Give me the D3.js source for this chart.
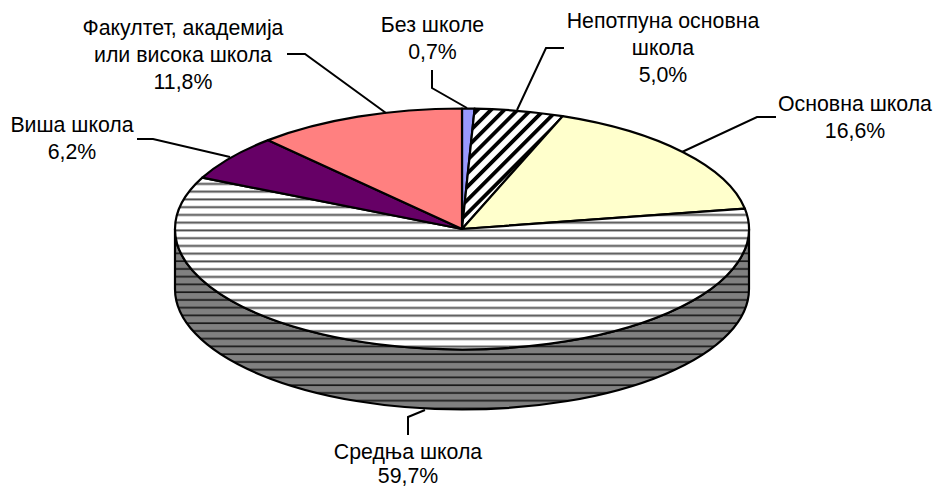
<!DOCTYPE html>
<html><head><meta charset="utf-8">
<script src="https://cdn.jsdelivr.net/npm/d3@7/dist/d3.min.js"></script>
<style>html,body{margin:0;padding:0;background:#fff}svg{display:block}text{font-family:"Liberation Sans",Arial,sans-serif;font-size:21.3px;fill:#000}</style>
</head><body><svg id="c" width="934" height="488"></svg>
<script>
const categories = ["Без школе","Непотпуна основна школа","Основна школа","Средња школа","Виша школа","Факултет, академија или висока школа"];
const values = [0.7,5.0,16.6,59.7,6.2,11.8];
const valueLabels = ["0,7%","5,0%","16,6%","59,7%","6,2%","11,8%"];
const fills = ["#9999ff","url(#diag)","#ffffcc","url(#hor)","#660066","#ff8080"];
const labelLines = [["Без школе","0,7%"],["Непотпуна основна","школа","5,0%"],["Основна школа","16,6%"],["Средња школа","59,7%"],["Виша школа","6,2%"],["Факултет, академија","или висока школа","11,8%"]];
const labelAnchors = [[432.5,32],[663,27.5],[855,111],[408,459],[72,132],[183,35]];
const lineGaps = [27,27,27,24,27,27];
const leaderPaths = [[[467,108],[432,88],[432,70]],[[517,110],[546,48],[564,48]],[[682,152],[757,117],[776,117]],[[425,410],[408,417],[408,435]],[[230,157],[153,139],[137,139]],[[386,113],[305,54],[287,54]]];

const cx=462,cy=229,rx=287,ry=120.5,depth=60;
const svg=d3.select("#c");
const defs=svg.append("defs");
const P=7.75;
const hor=defs.append("pattern").attr("id","hor").attr("patternUnits","userSpaceOnUse").attr("width",8).attr("height",P).attr("y",205.8);
hor.append("rect").attr("width",8).attr("height",P).attr("fill","#fff");
hor.append("rect").attr("y",-0.0).attr("width",8).attr("height",0.7).attr("fill","#aaa");
hor.append("rect").attr("y",0.7).attr("width",8).attr("height",1.1).attr("fill","#222");
hor.append("rect").attr("y",1.8).attr("width",8).attr("height",1.0).attr("fill","#aaa");
const horD=defs.append("pattern").attr("id","horD").attr("patternUnits","userSpaceOnUse").attr("width",8).attr("height",P).attr("y",205.8);
horD.append("rect").attr("width",8).attr("height",P).attr("fill","#808080");
horD.append("rect").attr("y",0.3).attr("width",8).attr("height",1.7).attr("fill","#1a1a1a");
const dg=defs.append("pattern").attr("id","diag").attr("patternUnits","userSpaceOnUse").attr("width",9.4).attr("height",9.4).attr("patternTransform","rotate(45)");
dg.append("rect").attr("width",9.4).attr("height",9.4).attr("fill","#fff");
dg.append("rect").attr("width",3.8).attr("height",9.4).attr("fill","#000");

const pie=d3.pie().sort(null).value(d=>d);
const arcs=pie(values);
const px=(a,dy=0)=>[cx+rx*Math.sin(a),cy-ry*Math.cos(a)+dy];
function wedge(d){
  const p0=px(d.startAngle),p1=px(d.endAngle),large=(d.endAngle-d.startAngle)>Math.PI?1:0;
  return `M${cx},${cy}L${p0}A${rx},${ry} 0 ${large} 1 ${p1}Z`;
}
const sideD=`M${cx-rx},${cy}A${rx},${ry} 0 0 0 ${cx+rx},${cy}L${cx+rx},${cy+depth}A${rx},${ry} 0 0 1 ${cx-rx},${cy+depth}Z`;
svg.append("path").attr("d",sideD).attr("fill","url(#horD)").attr("stroke","#000").attr("stroke-width",2.2);
svg.selectAll("path.w").data(arcs).join("path").attr("class","w").attr("d",wedge)
  .attr("fill",(d,i)=>fills[i]).attr("stroke","#000").attr("stroke-width",2.2).attr("stroke-linejoin","round");
const line=d3.line();
svg.selectAll("path.l").data(leaderPaths).join("path").attr("class","l").attr("d",d=>line(d)).attr("fill","none").attr("stroke","#000").attr("stroke-width",2);
labelLines.forEach((ls,i)=>{
  const t=svg.append("text").attr("text-anchor","middle");
  ls.forEach((s,j)=>t.append("tspan").attr("x",labelAnchors[i][0]).attr("y",labelAnchors[i][1]+j*lineGaps[i]).text(s));
});
</script></body></html>
